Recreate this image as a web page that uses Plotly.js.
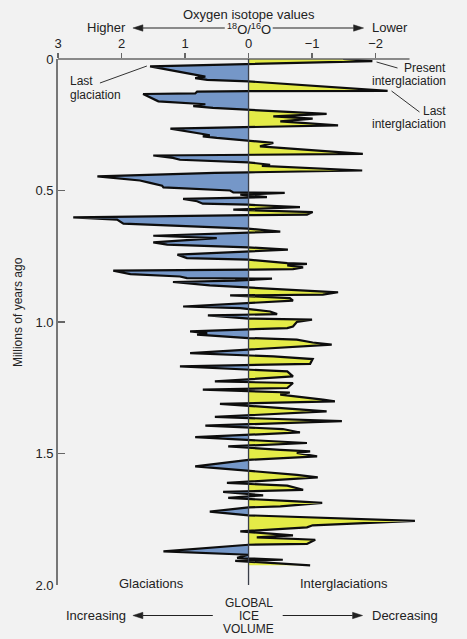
<!DOCTYPE html>
<html>
<head>
<meta charset="utf-8">
<script src="https://cdn.plot.ly/plotly-3.0.1.min.js"></script>
<style>
html,body{margin:0;padding:0;background:#f2f2f2;}
#chart{width:467px;height:639px;}
</style>
</head>
<body>
<div id="chart"></div>
<script>
// ---- data ----
const ageMa = [
0.000,0.008,0.028,0.060,0.067,0.073,0.079,0.085,0.121,0.122,0.124,0.131,0.133,0.161,0.167,0.172,0.179,0.186,
0.209,0.218,0.227,0.237,0.252,0.265,0.285,0.290,0.294,0.300,0.319,0.332,0.361,0.367,0.376,0.383,0.393,0.402,
0.406,0.424,0.431,0.433,0.446,0.462,0.471,0.482,0.488,0.500,0.507,0.509,0.516,0.525,0.532,0.541,0.550,0.554,
0.563,0.573,0.582,0.592,0.594,0.602,0.611,0.626,0.645,0.649,0.656,0.672,0.681,0.697,0.706,0.716,0.725,0.744,
0.757,0.763,0.770,0.776,0.779,0.785,0.792,0.799,0.801,0.802,0.805,0.818,0.827,0.833,0.835,0.843,0.848,0.861,
0.868,0.887,0.896,0.899,0.909,0.919,0.941,0.947,0.960,0.970,0.975,0.987,0.991,1.000,1.017,1.023,1.036,1.042,
1.048,1.061,1.067,1.078,1.086,1.118,1.131,1.138,1.141,1.159,1.169,1.188,1.207,1.226,1.232,1.251,1.257,1.268,
1.276,1.295,1.302,1.311,1.327,1.340,1.361,1.375,1.377,1.394,1.407,1.420,1.438,1.460,1.473,1.486,1.492,1.498,
1.511,1.524,1.549,1.581,1.591,1.612,1.622,1.638,1.646,1.659,1.669,1.682,1.688,1.701,1.705,1.721,1.735,1.756,
1.773,1.781,1.796,1.811,1.819,1.828,1.844,1.847,1.872,1.885,1.897,1.904,1.908,1.925
];
const isotope = [
-1.49,-1.95,1.55,0.87,0.68,0.84,0.65,0.00,-2.19,0.00,0.81,0.84,1.66,1.42,0.97,0.68,0.87,0.56,
-1.23,-0.39,-1.01,-0.50,-1.41,1.23,0.72,0.61,0.72,0.50,-0.39,-0.18,-1.80,1.50,1.19,1.08,0.01,-0.34,
-0.21,-1.79,0.00,0.53,2.38,1.71,1.55,1.36,1.34,0.29,0.24,-0.57,0.13,-0.29,1.03,0.81,0.72,0.01,
-0.81,0.24,-1.01,-0.92,0.00,2.76,2.07,1.97,0.01,-0.18,-0.50,1.50,0.50,1.50,1.28,0.01,-0.62,1.12,
0.97,0.00,-0.34,-0.61,-0.92,-0.61,-0.86,-0.70,0.00,1.19,2.13,1.86,1.08,0.97,-0.37,0.21,1.19,0.61,
0.00,-1.41,-1.17,0.29,-0.65,-0.70,1.03,0.13,-0.34,-0.45,0.64,0.00,-1.00,-0.76,-0.70,-0.61,0.92,0.65,
0.81,0.00,-0.76,-1.01,-1.31,0.92,-0.39,-0.76,-1.01,-0.97,1.08,-0.61,-0.70,0.53,-0.70,-0.61,0.72,-0.65,
-0.50,-1.17,-1.36,0.45,-0.45,-1.23,0.53,-0.97,-1.47,0.68,-0.54,-0.81,0.84,-0.92,0.32,-0.50,-0.97,-0.76,
-1.08,0.00,0.84,-0.76,-1.09,0.34,-0.61,-0.86,0.40,-0.23,0.32,-0.76,-1.16,-0.50,0.00,0.61,0.00,-2.62,
-1.01,-0.92,0.13,-0.70,-0.13,-1.05,-0.92,0.00,1.34,0.00,0.18,-0.54,0.21,-0.97
];
const xTickVals = [3, 2, 1, 0, -1, -2];
const xTickText = ['3', '2', '1', '0', '\u22121', '\u22122'];
const yTickVals = [0, 0.5, 1.0, 1.5, 2.0];
const yTickText = ['0', '0.5', '1.0', '1.5', '2.0'];

// ---- split into glacial (positive) and interglacial (negative) fills ----
const posX = [], posY = [], negX = [], negY = [];
for (let i = 0; i < isotope.length; i++) {
  const v = isotope[i], a = ageMa[i];
  if (i > 0) {
    const pv = isotope[i-1], pa = ageMa[i-1];
    if (pv * v < 0) {
      const t = pv / (pv - v);
      const ca = pa + t * (a - pa);
      posX.push(0); posY.push(ca); negX.push(0); negY.push(ca);
    }
  }
  posX.push(Math.max(v, 0)); posY.push(a);
  negX.push(Math.min(v, 0)); negY.push(a);
}

const FONT = 'Liberation Sans, Arial, Helvetica, sans-serif';
const TXT = '#222';
// plot area geometry for paper positioning
const L = 58, T = 59, W = 362.5, H = 526;
const P = px => (px - L) / W;
const Q = py => 1 - (py - T) / H;

const traces = [
  {x: posX, y: posY, mode: 'lines', fill: 'tozerox', fillcolor: '#7597c8',
   line: {width: 0, color: '#7597c8'}, hoverinfo: 'skip', showlegend: false},
  {x: negX, y: negY, mode: 'lines', fill: 'tozerox', fillcolor: '#e4eb47',
   line: {width: 0, color: '#e4eb47'}, hoverinfo: 'skip', showlegend: false},
  {x: isotope, y: ageMa, mode: 'lines', line: {color: '#0d0d0d', width: 2.2},
   showlegend: false}
];

function txt(text, px, py, xanchor, size) {
  return {text: text, xref: 'paper', yref: 'paper', x: P(px), y: Q(py),
    xanchor: xanchor || 'center', yanchor: 'middle', showarrow: false,
    font: {family: FONT, size: size || 13, color: TXT}};
}
function seg(x0, y0, x1, y1, color, width) {
  return {type: 'line', xref: 'paper', yref: 'paper', x0: P(x0), y0: Q(y0),
    x1: P(x1), y1: Q(y1), line: {color: color || '#333', width: width || 1}};
}
// horizontal arrow: tail at tx, head at hx (pixels), filled triangular head
function arrowShapes(tx, hx, py) {
  const dir = hx > tx ? 1 : -1;
  const len = 10, half = 3.2;
  const bx = hx - dir * len;
  const path = 'M ' + P(hx) + ',' + Q(py) + ' L ' + P(bx) + ',' + Q(py - half) +
               ' L ' + P(bx) + ',' + Q(py + half) + ' Z';
  return [
    seg(tx, py, bx, py, TXT, 1.1),
    {type: 'path', xref: 'paper', yref: 'paper', path: path,
     fillcolor: TXT, line: {color: TXT, width: 0.5}}
  ];
}

const annotations = [
  txt('Oxygen isotope values', 249, 15),
  txt('<sup>18</sup>O/<sup>16</sup>O', 249, 29),
  txt('Higher', 107, 28),
  txt('Lower', 390, 28),
  txt('Last', 68, 81.5, 'left', 12),
  txt('glaciation', 68, 95, 'left', 12),
  txt('Present', 449, 68, 'right', 12),
  txt('interglaciation', 449, 81.5, 'right', 12),
  txt('Last', 449, 110.5, 'right', 12),
  txt('interglaciation', 449, 124, 'right', 12),
  txt('Glaciations', 152, 583),
  txt('Interglaciations', 344, 583),
  txt('GLOBAL', 249, 603, 'center', 12),
  txt('ICE', 249, 616, 'center', 12),
  txt('VOLUME', 249, 629, 'center', 12),
  txt('Increasing', 96, 615.5),
  txt('Decreasing', 405, 615.5),
  {text: 'Millions of years ago', xref: 'paper', yref: 'paper', x: P(18), y: Q(312),
   xanchor: 'center', yanchor: 'middle', textangle: -90, showarrow: false,
   font: {family: FONT, size: 12, color: TXT}}
];

const shapes = [
  // top axis line
  {type: 'line', xref: 'paper', yref: 'paper', x0: 0, y0: 1, x1: P(410), y1: 1,
   line: {color: '#666', width: 1.5}},
  // zero line
  {type: 'line', xref: 'x', yref: 'y', x0: 0, y0: 0, x1: 0, y1: 2.0,
   line: {color: '#3a3f4a', width: 1.3}, layer: 'above'},
  seg(100, 83, 147, 66),
  seg(377, 62, 398, 68),
  seg(392, 91, 420, 112)
].concat(
  arrowShapes(225, 133, 28),
  arrowShapes(273, 364, 28),
  arrowShapes(213, 133, 615.5),
  arrowShapes(283, 363, 615.5)
);

const layout = {
  width: 467, height: 639,
  margin: {l: L, t: T, r: 467 - L - W, b: 639 - T - H, pad: 0},
  paper_bgcolor: '#f2f2f2', plot_bgcolor: '#f2f2f2',
  showlegend: false,
  font: {family: FONT, size: 13, color: TXT},
  xaxis: {side: 'top', range: [3, -2.70], autorange: false,
    tickvals: xTickVals, ticktext: xTickText, ticks: 'outside', ticklen: 5,
    tickcolor: '#666', tickwidth: 1.3, showline: false, showgrid: false, zeroline: false,
    tickfont: {family: FONT, size: 13, color: TXT}},
  yaxis: {range: [2.0, 0], autorange: false,
    tickvals: yTickVals, ticktext: yTickText, ticks: 'inside', ticklen: 7,
    tickcolor: '#666', tickwidth: 1.3, showline: true, linecolor: '#777', linewidth: 1.8,
    showgrid: false, zeroline: false,
    tickfont: {family: FONT, size: 13, color: TXT}},
  annotations: annotations,
  shapes: shapes
};

Plotly.newPlot('chart', traces, layout, {displayModeBar: false, staticPlot: true});
</script>
</body>
</html>
